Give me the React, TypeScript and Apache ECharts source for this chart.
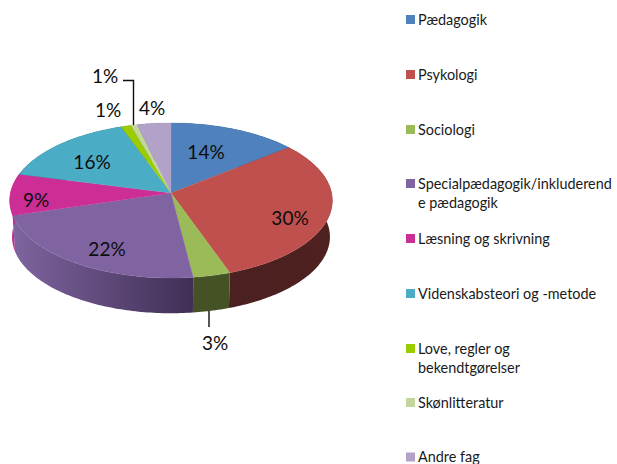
import React, { useEffect, useRef } from "react";
import * as echarts from "echarts";

const categories = [
  ["Pædagogik"],
  ["Psykologi"],
  ["Sociologi"],
  ["Specialpædagogik/inkluderend", "e pædagogik"],
  ["Læsning og skrivning"],
  ["Videnskabsteori og -metode"],
  ["Love, regler og", "bekendtgørelser"],
  ["Skønlitteratur"],
  ["Andre fag"],
];
const shares = [14.2, 30.4, 3.4, 22.4, 8.6, 15.5, 1.1, 0.7, 3.7];
const colors = ["#4F81BD", "#C0504D", "#9BBB59", "#8064A2", "#CC2E96", "#4BACC6", "#9BCC00", "#C3D69B", "#B2A2C7"];
const wallColors: [string, string][] = [
  ["#27405E", "#27405E"],
  ["#4B2020", "#4F2120"],
  ["#445226", "#445226"],
  ["#7F649F", "#3F2F55"],
  ["#BC2C8C", "#BC2C8C"],
  ["#255A68", "#255A68"],
  ["#4C6600", "#4C6600"],
  ["#60694C", "#60694C"],
  ["#584F63", "#584F63"],
];

const FONT = "Lato, Carlito, sans-serif";
const APEX_X = 171;
const APEX_Y = 193;
const PERSP = 0.0968;
const RX = 160.6;
const RY = 76.8;
const DEPTH = 36.5;
const BOTTOM_SCALE = 0.985;

const labelPos = [
  [206, 151],
  [290, 217],
  [215, 342],
  [107, 248],
  [36, 199],
  [92, 161],
  [108, 109],
  [105, 75],
  [152, 107],
];
const legendTop = [15, 70, 125, 179, 234, 289, 344, 398, 452.5];

function project(theta: number, bottom: boolean): number[] {
  const X = Math.sin(theta);
  const Z = Math.cos(theta);
  const w = 1 + PERSP * Z;
  const s = bottom ? BOTTOM_SCALE : 1;
  return [APEX_X + (s * RX * X) / w, APEX_Y - (s * RY * Z) / w + (bottom ? DEPTH : 0)];
}

function arc(a0: number, a1: number, bottom: boolean): number[][] {
  const n = Math.max(2, Math.ceil(((a1 - a0) * 180) / Math.PI));
  const pts: number[][] = [];
  for (let i = 0; i <= n; i++) pts.push(project(a0 + ((a1 - a0) * i) / n, bottom));
  return pts;
}

const total = shares.reduce((a, b) => a + b, 0);
const angle = (v: number) => (v / total) * Math.PI * 2;
const sliceRows = shares.map((v, i) => {
  const before = shares.slice(0, i).reduce((a, b) => a + b, 0);
  return [i, angle(before), angle(before + v), v];
});

function renderWall(_: any, api: any) {
  const i = api.value(0);
  const a0 = api.value(1);
  const a1 = api.value(2);
  const top = arc(a0, a1, false);
  const bot = arc(a0, a1, true).reverse();
  const [c0, c1] = wallColors[i];
  return {
    type: "polygon",
    shape: { points: top.concat(bot) },
    style: {
      fill: new echarts.graphic.LinearGradient(0, 0, 1, 0, [
        { offset: 0, color: c0 },
        { offset: 1, color: c1 },
      ]),
    },
  };
}

function renderTop(_: any, api: any) {
  const i = api.value(0);
  const pts = [[APEX_X, APEX_Y]].concat(arc(api.value(1), api.value(2), false));
  return {
    type: "polygon",
    shape: { points: pts },
    style: { fill: colors[i], stroke: colors[i], lineWidth: 0.3 },
  };
}

function renderLabel(_: any, api: any) {
  const i = api.value(0);
  return {
    type: "text",
    x: labelPos[i][0],
    y: labelPos[i][1],
    style: {
      text: Math.round(api.value(3)) + "%",
      fill: "#0d0d0d",
      font: `19px ${FONT}`,
      align: "center",
      verticalAlign: "middle",
    },
  };
}

const leaderLines = [
  [[123, 80.5], [133.5, 80.5], [133.5, 125]],
  [[209, 311], [209, 327]],
];

export default function App() {
  const ref = useRef<HTMLDivElement>(null);
  useEffect(() => {
    const chart = echarts.init(ref.current!, null, { renderer: "svg" });
    const base = { type: "custom", coordinateSystem: "none", silent: true, data: sliceRows, clip: false };
    chart.setOption({
      animation: false,
      backgroundColor: "#fff",
      series: [
        { ...base, z: 1, renderItem: renderWall },
        { ...base, z: 2, renderItem: renderTop },
        { ...base, z: 4, renderItem: renderLabel },
      ],
      graphic: {
        elements: [
          ...leaderLines.map((points) => ({
            type: "polyline",
            z: 3,
            shape: { points },
            style: { stroke: "#0d0d0d", lineWidth: 1.4, fill: null },
          })),
          ...categories.flatMap((lines, i) => [
            {
              type: "rect",
              shape: { x: 406, y: legendTop[i], width: 9, height: 9 },
              style: { fill: colors[i] },
            },
            ...lines.map((line, k) => ({
              type: "text",
              x: 418,
              y: legendTop[i] + 4 + k * 19,
              style: {
                text: line,
                fill: "#1a1a1a",
                font: `14.4px ${FONT}`,
                verticalAlign: "middle",
              },
            })),
          ]),
        ],
      },
    });
    return () => chart.dispose();
  }, []);
  return <div ref={ref} style={{ position: "absolute", left: 0, top: 0, width: 617, height: 464 }} />;
}
